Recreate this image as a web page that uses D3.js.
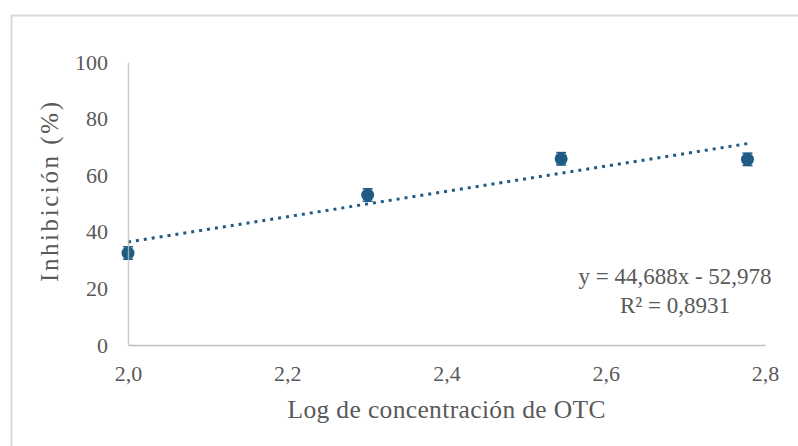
<!DOCTYPE html>
<html>
<head>
<meta charset="utf-8">
<script src="https://cdn.jsdelivr.net/npm/d3@7"></script>
<style>
  html, body { margin: 0; padding: 0; background: #fff; }
  svg { display: block; }
  text { font-family: "Liberation Serif", "Times New Roman", serif; fill: #595959; }
</style>
</head>
<body>
<svg id="chart" width="798" height="446"></svg>
<script>
// Log10 of OTC concentration and measured inhibition (%)
const logConc = [2.0, 2.301, 2.544, 2.778];
const inhibition = [32.5, 53.0, 65.8, 65.6];
const errors = [2.2, 2.2, 2.2, 2.2];

// Linear trendline coefficients and fit quality
const slope = 44.688;
const intercept = -52.978;
const rSquared = 0.8931;

const xTicks = [2.0, 2.2, 2.4, 2.6, 2.8];
const yTicks = [0, 20, 40, 60, 80, 100];

const W = 798, H = 446;
const margin = { left: 128, right: 33, top: 62, bottom: 101 };
const markColor = "#1f5b84";
const axisColor = "#bfbfbf";

const svg = d3.select("#chart");

// outer chart border
svg.append("rect")
  .attr("x", 11.5).attr("y", 15.5)
  .attr("width", W + 20).attr("height", H + 20)
  .attr("fill", "none")
  .attr("stroke", "#d9d9d9")
  .attr("stroke-width", 2);

const x = d3.scaleLinear().domain([2.0, 2.8]).range([margin.left, W - margin.right]);
const y = d3.scaleLinear().domain([0, 100]).range([H - margin.bottom, margin.top]);

const commaFmt = v => d3.format(".1f")(v).replace(".", ",");

const pts = logConc.map((v, i) => ({ x: v, y: inhibition[i], e: errors[i] }));

// dotted linear trendline
const xs = d3.extent(logConc);
const trend = xs.map(v => [v, slope * v + intercept]);
svg.append("path")
  .datum(trend)
  .attr("d", d3.line().x(d => x(d[0])).y(d => y(d[1])))
  .attr("fill", "none")
  .attr("stroke", markColor)
  .attr("stroke-width", 3)
  .attr("stroke-dasharray", "3,5");

// error bars
const eb = svg.append("g").selectAll("g").data(pts).join("g");
eb.append("line")
  .attr("x1", d => x(d.x)).attr("x2", d => x(d.x))
  .attr("y1", d => y(d.y - d.e)).attr("y2", d => y(d.y + d.e))
  .attr("stroke", markColor).attr("stroke-width", 1.5);
eb.selectAll("line.cap").data(d => [[d.x, d.y - d.e], [d.x, d.y + d.e]]).join("line")
  .attr("class", "cap")
  .attr("x1", d => x(d[0]) - 5).attr("x2", d => x(d[0]) + 5)
  .attr("y1", d => y(d[1])).attr("y2", d => y(d[1]))
  .attr("stroke", markColor).attr("stroke-width", 1.5);

// markers
svg.append("g").selectAll("circle").data(pts).join("circle")
  .attr("cx", d => x(d.x)).attr("cy", d => y(d.y))
  .attr("r", 6.5)
  .attr("fill", markColor);

// x axis
const gx = svg.append("g")
  .attr("transform", `translate(0,${y(0)})`)
  .call(d3.axisBottom(x).tickValues(xTicks).tickSize(0).tickPadding(20).tickFormat(commaFmt));
gx.select(".domain").attr("stroke", axisColor).attr("stroke-width", 1.5);
gx.selectAll("text").attr("font-size", 22).attr("fill", "#595959");

// y axis
const gy = svg.append("g")
  .attr("transform", `translate(${x(2.0)},0)`)
  .call(d3.axisLeft(y).tickValues(yTicks).tickSize(0).tickPadding(20).tickFormat(d3.format("d")));
gy.select(".domain").attr("stroke", axisColor).attr("stroke-width", 1.5).attr("stroke-opacity", 0.8);
gy.selectAll("text").attr("font-size", 22).attr("fill", "#595959");

// axis titles
svg.append("text")
  .attr("x", x(2.4)).attr("y", 418)
  .attr("text-anchor", "middle")
  .attr("font-size", 25.5)
  .attr("textLength", 318)
  .attr("lengthAdjust", "spacing")
  .text("Log de concentración de OTC");

svg.append("text")
  .attr("transform", `translate(58,192) rotate(-90)`)
  .attr("text-anchor", "middle")
  .attr("font-size", 25)
  .attr("textLength", 180)
  .attr("lengthAdjust", "spacing")
  .text("Inhibición (%)");

// trendline equation
const fmt3 = v => d3.format(".3f")(Math.abs(v)).replace(".", ",");
const eq = svg.append("text")
  .attr("x", 675).attr("y", 284)
  .attr("text-anchor", "middle")
  .attr("font-size", 23);
eq.append("tspan").text(`y = ${fmt3(slope)}x ${intercept < 0 ? "-" : "+"} ${fmt3(intercept)}`);
eq.append("tspan").attr("x", 675).attr("dy", 29)
  .text(`R² = ${d3.format(".4f")(rSquared).replace(".", ",")}`);
</script>
</body>
</html>
